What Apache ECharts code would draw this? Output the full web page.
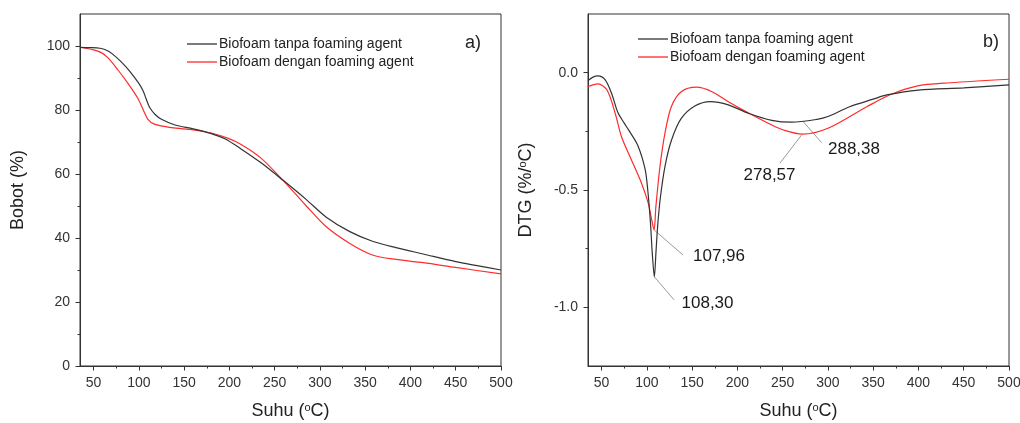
<!DOCTYPE html>
<html lang="en">
<head>
  <meta charset="UTF-8">
  <title>TGA / DTG Biofoam</title>
</head>
<body style="margin:0; background-color:#ffffff;">
<div id="main" style="width:1020px; height:423px;"></div>

<script src="https://cdn.jsdelivr.net/npm/echarts@6.0.0/dist/echarts.min.js"></script>

<script>
  // nama seri
  var namaTanpa = 'Biofoam tanpa foaming agent';
  var namaDengan = 'Biofoam dengan foaming agent';

  // tick sumbu
  var suhuTick = [50, 100, 150, 200, 250, 300, 350, 400, 450, 500];
  var suhuMinor = [75, 125, 175, 225, 275, 325, 375, 425, 475];
  var bobotTick = [0, 20, 40, 60, 80, 100];
  var bobotMinor = [10, 30, 50, 70, 90];
  var dtgTick = [-1.0, -0.5, 0.0];
  var dtgMinor = [-0.75, -0.25];

  // a) TGA  [suhu, bobot %]
  var tgaTanpa = [[35,99.6],[45,99.5],[57,99.3],[65,98.6],[70,97.7],[80,95.2],[90,92.1],[100,88.3],[105,85.8],[108,83.5],[112,80.8],[118,78.6],[125,77.1],[140,75.3],[160,74.1],[180,72.6],[195,71.0],[212,68.0],[235,63.5],[259,58.1],[285,52.0],[307,46.5],[333,42.0],[358,39.0],[384,37.0],[414,35.0],[450,32.6],[475,31.3],[500,30.0]];
  var tgaDengan = [[35,99.6],[50,98.8],[58,98.0],[66,96.3],[77,92.5],[88,88.3],[99,83.6],[106,79.3],[110,77.1],[117,75.6],[136,74.5],[160,73.8],[180,72.8],[198,71.2],[212,69.4],[234,65.2],[259,58.1],[285,50.0],[307,43.5],[333,38.3],[358,34.7],[384,33.3],[414,32.3],[450,30.8],[500,28.8]];

  // b) DTG  [suhu, %/oC]
  var dtgTanpa = [[35,-0.034],[40,-0.02],[46,-0.014],[54,-0.031],[61,-0.088],[68,-0.17],[75,-0.215],[80,-0.245],[90,-0.31],[98,-0.41],[101,-0.5],[104,-0.64],[106,-0.77],[108.3,-0.87],[110,-0.77],[112,-0.65],[115,-0.53],[120,-0.40],[127,-0.29],[138,-0.195],[153,-0.142],[170,-0.123],[190,-0.137],[212,-0.173],[238,-0.203],[260,-0.211],[288,-0.199],[300,-0.187],[324,-0.145],[350,-0.113],[365,-0.095],[400,-0.074],[450,-0.065],[500,-0.052]];
  var dtgDengan = [[35,-0.06],[46,-0.048],[56,-0.074],[65,-0.173],[72,-0.273],[83,-0.372],[94,-0.47],[101.6,-0.557],[105,-0.62],[107.96,-0.67],[110,-0.57],[114.5,-0.40],[120,-0.258],[127,-0.145],[138,-0.081],[155,-0.062],[172,-0.081],[190,-0.124],[212,-0.171],[238,-0.223],[253,-0.247],[272,-0.262],[300,-0.237],[343,-0.145],[368,-0.095],[398,-0.057],[435,-0.043],[500,-0.028]];

  // anotasi puncak: [titik kurva, ujung garis, posisi teks, teks]
  var anotasi = [
    { dari: [107.96, -0.67], ke: [140, -0.777], teks: [179.7, -0.784], label: '107,96' },
    { dari: [108.3, -0.87], ke: [130, -0.968], teks: [167, -0.983], label: '108,30' },
    { dari: [271, -0.265], ke: [247, -0.386], teks: [235.5, -0.436], label: '278,57' },
    { dari: [272.8, -0.209], ke: [293, -0.298], teks: [328.8, -0.326], label: '288,38' }
  ];

  var hitam = '#333333';
  var merah = '#ff2b2b';
  var font = 'Liberation Sans, Arial, sans-serif';

  function sumbuX(grid, minor) {
    return {
      type: 'value', gridIndex: grid, position: 'bottom', min: 35, max: 500,
      name: minor ? '' : 'Suhu ({o|o}C)',
      nameLocation: 'middle', nameGap: 36,
      nameTextStyle: { fontSize: 18, color: '#222', fontFamily: font,
        rich: { o: { fontSize: 11, verticalAlign: 'top', padding: [0, 0, 8, 0] } } },
      splitLine: { show: false },
      axisLine: { show: !minor, onZero: false, lineStyle: { color: '#333' } },
      axisTick: { show: true, length: minor ? 2.5 : 4.5, customValues: minor ? suhuMinor : suhuTick,
        lineStyle: { color: '#333' } },
      axisLabel: { show: !minor, customValues: suhuTick, margin: 10, fontSize: 14, color: '#333', fontFamily: font }
    };
  }

  function sumbuY(grid, minor, min, max, major, minorVals, nama, gap, fmt) {
    return {
      type: 'value', gridIndex: grid, position: 'left', min: min, max: max,
      name: minor ? '' : nama,
      nameLocation: 'middle', nameGap: gap,
      nameTextStyle: { fontSize: 18, color: '#222', fontFamily: font,
        rich: { o: { fontSize: 11, verticalAlign: 'top', padding: [0, 0, 8, 0] } } },
      splitLine: { show: false },
      axisLine: { show: !minor, onZero: false, lineStyle: { color: '#333' } },
      axisTick: { show: true, length: minor ? 2.5 : 4.5, customValues: minor ? minorVals : major,
        lineStyle: { color: '#333' } },
      axisLabel: { show: !minor, customValues: major, margin: 10, fontSize: 14, color: '#333', fontFamily: font,
        formatter: fmt }
    };
  }

  function garis(nama, data, warna, xi, yi) {
    return {
      name: nama, type: 'line', data: data, xAxisIndex: xi, yAxisIndex: yi,
      symbol: 'none', smooth: 0.3,
      lineStyle: { color: warna, width: 1.2 }, itemStyle: { color: warna },
      silent: true
    };
  }

  var legendaUmum = {
    orient: 'vertical', icon: 'rect', itemWidth: 30, itemHeight: 1.3, itemGap: 4,
    data: [namaTanpa, namaDengan],
    textStyle: { fontSize: 14, color: '#222', fontFamily: font, padding: [0, 0, 0, -3] }
  };

  var chart = echarts.init(document.getElementById('main'));
  chart.setOption({
    backgroundColor: '#ffffff',
    animation: false,
    title: [
      { text: 'a)', left: 460, top: 29, textStyle: { fontSize: 18, fontWeight: 'normal', color: '#222', fontFamily: font } },
      { text: 'b)', left: 978, top: 28, textStyle: { fontSize: 18, fontWeight: 'normal', color: '#222', fontFamily: font } }
    ],
    legend: [
      Object.assign({ left: 182, top: 32 }, legendaUmum),
      Object.assign({ left: 633, top: 27 }, legendaUmum)
    ],
    grid: [
      { left: 80, top: 14, width: 421, height: 352, show: true, borderColor: '#333', borderWidth: 1,
        containLabel: false, outerBoundsMode: 'none' },
      { left: 588, top: 14, width: 421, height: 352, show: true, borderColor: '#333', borderWidth: 1,
        containLabel: false, outerBoundsMode: 'none' }
    ],
    xAxis: [sumbuX(0, false), sumbuX(0, true), sumbuX(1, false), sumbuX(1, true)],
    yAxis: [
      sumbuY(0, false, 0, 110, bobotTick, bobotMinor, 'Bobot (%)', 53, function (v) { return v; }),
      sumbuY(0, true, 0, 110, bobotTick, bobotMinor, '', 53, null),
      sumbuY(1, false, -1.25, 0.25, dtgTick, dtgMinor, 'DTG (%/{o|o}C)', 52, function (v) { return v.toFixed(1); }),
      sumbuY(1, true, -1.25, 0.25, dtgTick, dtgMinor, '', 52, null)
    ],
    series: [
      garis(namaDengan, tgaDengan, merah, 0, 0),
      garis(namaTanpa, tgaTanpa, hitam, 0, 0),
      garis(namaDengan, dtgDengan, merah, 2, 2),
      garis(namaTanpa, dtgTanpa, hitam, 2, 2),
      {
        type: 'lines', coordinateSystem: 'cartesian2d', xAxisIndex: 2, yAxisIndex: 2,
        silent: true,
        lineStyle: { color: '#9a9a9a', width: 1, opacity: 1 },
        data: anotasi.map(function (a) { return { coords: [a.dari, a.ke] }; })
      },
      {
        type: 'scatter', xAxisIndex: 2, yAxisIndex: 2, symbolSize: 0, silent: true,
        itemStyle: { opacity: 1 },
        data: anotasi.map(function (a) { return [a.teks[0], a.teks[1], a.label]; }),
        label: { show: true, position: 'inside', formatter: '{@[2]}', fontSize: 17, color: '#1a1a1a',
          fontFamily: font, opacity: 1, textBorderWidth: 0 }
      }
    ]
  });
</script>
</body>
</html>
